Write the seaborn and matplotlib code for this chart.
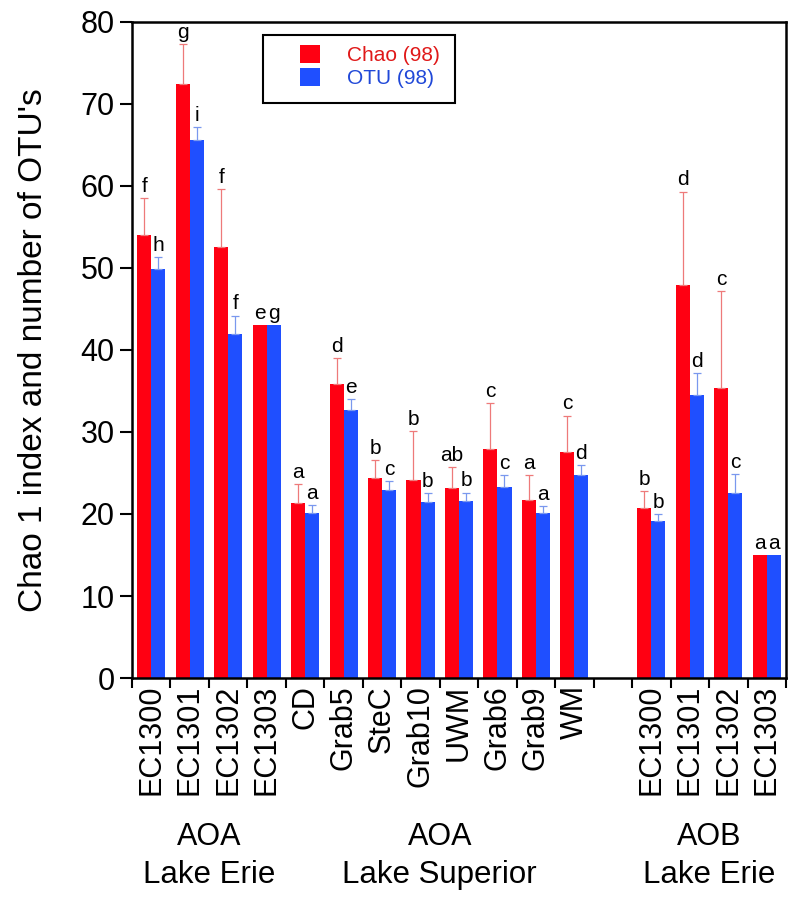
import numpy as np
import pandas as pd
import matplotlib
matplotlib.use("Agg")
import matplotlib.pyplot as plt
from matplotlib.patches import Patch, Rectangle
import seaborn as sns

# 数据
site_ids = ["E_EC1300", "E_EC1301", "E_EC1302", "E_EC1303", "CD", "Grab5", "SteC",
            "Grab10", "UWM", "Grab6", "Grab9", "WM", "gap",
            "B_EC1300", "B_EC1301", "B_EC1302", "B_EC1303"]
tick_labels = ["EC1300", "EC1301", "EC1302", "EC1303", "CD", "Grab5", "SteC",
               "Grab10", "UWM", "Grab6", "Grab9", "WM", "",
               "EC1300", "EC1301", "EC1302", "EC1303"]

chao = [54.0, 72.4, 52.5, 43.0, 21.4, 35.8, 24.4, 24.1, 23.2, 27.9, 21.7, 27.6, np.nan,
        20.7, 47.9, 35.4, 15.0]
chao_err = [4.5, 4.9, 7.1, 0, 2.2, 3.2, 2.2, 6.0, 2.5, 5.6, 3.0, 4.4, np.nan,
            2.1, 11.4, 11.8, 0]
otu = [49.9, 65.6, 42.0, 43.0, 20.1, 32.7, 22.9, 21.5, 21.6, 23.3, 20.1, 24.7, np.nan,
       19.1, 34.5, 22.5, 15.0]
otu_err = [1.4, 1.6, 2.2, 0, 1.0, 1.3, 1.1, 1.0, 1.0, 1.4, 0.9, 1.3, np.nan,
           0.9, 2.7, 2.4, 0]

chao_letters = ["f", "g", "f", "e", "a", "d", "b", "b", "ab", "c", "a", "c", "",
                "b", "d", "c", "a"]
otu_letters = ["h", "i", "f", "g", "a", "e", "c", "b", "b", "c", "a", "d", "",
               "b", "d", "c", "a"]

groups = [("AOA", "Lake Erie", 0, 3), ("AOA", "Lake Superior", 4, 11), ("AOB", "Lake Erie", 13, 16)]

series = ["Chao (98)", "OTU (98)"]
bar_colors = {"Chao (98)": "#ff0012", "OTU (98)": "#1f4fff"}
err_colors = {"Chao (98)": "#ee7a7a", "OTU (98)": "#7a98ee"}
text_colors = {"Chao (98)": "#e01818", "OTU (98)": "#2048d8"}

rows = []
for i, sid in enumerate(site_ids):
    if sid == "gap":
        continue
    rows.append({"site": sid, "series": series[0], "value": chao[i], "err": chao_err[i], "letter": chao_letters[i]})
    rows.append({"site": sid, "series": series[1], "value": otu[i], "err": otu_err[i], "letter": otu_letters[i]})
df = pd.DataFrame(rows)

sns.set_style("ticks")
plt.rcParams["font.family"] = ["Liberation Sans", "DejaVu Sans"]
plt.rcParams["text.color"] = "black"
plt.rcParams["axes.labelcolor"] = "black"
plt.rcParams["xtick.color"] = "black"
plt.rcParams["ytick.color"] = "black"

fig = plt.figure(figsize=(7.97, 9.01), dpi=100)
ax = fig.add_axes([0.1656, 0.2475, 0.8206, 0.7281])

sns.barplot(data=df, x="site", y="value", hue="series", order=site_ids,
            hue_order=series, palette=bar_colors, saturation=1, width=0.73,
            errorbar=None, legend=False, linewidth=0, ax=ax)

# 误差线和显著性字母
for cont, name in zip(ax.containers, series):
    sub = df[df["series"] == name].set_index("site")
    for bar in cont:
        xc = bar.get_x() + bar.get_width() / 2
        idx = int(round(xc))
        sid = site_ids[idx]
        if sid not in sub.index:
            continue
        val = sub.loc[sid, "value"]
        err = sub.loc[sid, "err"]
        top = val
        if err > 0:
            ax.errorbar(xc, val, yerr=[[0], [err]], fmt="none", ecolor=err_colors[name],
                        elinewidth=0.9, capsize=3, capthick=0.9, zorder=1)
            top = val + err
        ax.annotate(sub.loc[sid, "letter"], (xc, top), xytext=(0, 4.5),
                    textcoords="offset points", ha="center", va="baseline",
                    fontsize=15, color="black")

ax.set_xlim(-0.5, len(site_ids) - 0.5)
ax.set_ylim(0, 80)
ax.set_yticks(range(0, 81, 10))
ax.tick_params(axis="y", labelsize=22, length=8.5, width=1.5, direction="out", pad=4)

ax.set_xticks(range(len(site_ids)))
ax.set_xticklabels(tick_labels, rotation=90, fontsize=22)
ax.set_xticks(np.arange(-0.5, len(site_ids)), minor=True)
ax.tick_params(axis="x", which="major", length=0, pad=5)
ax.tick_params(axis="x", which="minor", length=7, width=1.5, direction="out")

for sp in ax.spines.values():
    sp.set_visible(True)
    sp.set_linewidth(1.8)
    sp.set_color("black")

ax.set_xlabel("")
ax.set_ylabel("Chao 1 index and number of OTU's", fontsize=24)
ax.yaxis.set_label_coords(-0.127, 0.5)

# 分组标签
for top_txt, bot_txt, a, b in groups:
    xm = (a + b) / 2
    ax.text(xm, -0.2546, top_txt, transform=ax.get_xaxis_transform(), ha="center",
            va="baseline", fontsize=22)
    ax.text(xm, -0.3125, bot_txt, transform=ax.get_xaxis_transform(), ha="center",
            va="baseline", fontsize=22.5)

# 图例
handles = [Patch(facecolor=bar_colors[s], edgecolor="none") for s in series]
leg = ax.legend(handles, series, loc="upper left", bbox_to_anchor=(0.257, 0.965),
                frameon=False, fontsize=15, borderpad=0, borderaxespad=0,
                handlelength=0.95, handleheight=0.95, handletextpad=1.3,
                labelspacing=0.15)
for t, s in zip(leg.get_texts(), series):
    t.set_color(text_colors[s])
ax.add_patch(Rectangle((0.2, 0.877), 0.294, 0.103, transform=ax.transAxes,
                       fill=False, lw=1.5, edgecolor="black", zorder=5))

fig.savefig("out.png", dpi=100)
plt.close(fig)
